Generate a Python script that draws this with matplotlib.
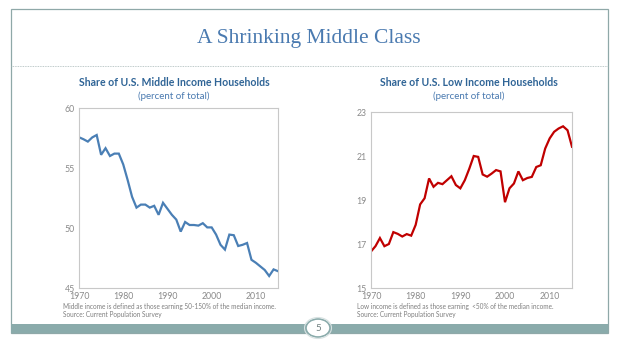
import matplotlib.pyplot as plt
from matplotlib.patches import Rectangle, Ellipse

years = list(range(1970, 2016))
middle = [57.56, 57.4, 57.2, 57.55, 57.75, 56.1, 56.65, 56.0, 56.2, 56.2,
          55.3, 54.0, 52.6, 51.7, 51.95, 51.95, 51.7, 51.85, 51.1, 52.1,
          51.6, 51.1, 50.7, 49.7, 50.5, 50.25, 50.25, 50.2, 50.4, 50.05,
          50.05, 49.45, 48.6, 48.2, 49.45, 49.4, 48.5, 48.6, 48.75, 47.35,
          47.1, 46.8, 46.5, 46.0, 46.55, 46.4]
low = [16.66, 16.9, 17.27, 16.9, 17.0, 17.54, 17.46, 17.34, 17.45, 17.38,
       17.87, 18.8, 19.08, 19.98, 19.6, 19.78, 19.72, 19.9, 20.08, 19.68,
       19.53, 19.9, 20.42, 21.0, 20.96, 20.16, 20.06, 20.2, 20.36, 20.3,
       18.9, 19.53, 19.75, 20.3, 19.9, 20.0, 20.05, 20.5, 20.58, 21.34,
       21.8, 22.1, 22.25, 22.35, 22.17, 21.42]
xticks = [1970, 1980, 1990, 2000, 2010]
mid_yticks = [45, 50, 55, 60]
low_yticks = [15, 17, 19, 21, 23]

W, H = 618, 351
fig = plt.figure(figsize=(W / 100, H / 100), dpi=100)
plt.rcParams['font.family'] = ['Lato', 'DejaVu Sans']

# slide decoration in pixel coords
bg = fig.add_axes([0, 0, 1, 1])
bg.set_xlim(0, W); bg.set_ylim(H, 0); bg.axis('off')
bg.add_patch(Rectangle((11, 9), 597, 324, fill=False, ec='#8fa8a8', lw=0.9))
bg.plot([11, 608], [66, 66], ls=(0, (1, 1)), color='#a8b8b8', lw=0.6)
bg.add_patch(Rectangle((11, 324), 597, 9, color='#8aabab', lw=0))
bg.add_patch(Ellipse((318, 328), 24, 18, fc='white', ec='#8aabab', lw=1.2))
bg.add_patch(Ellipse((318, 328), 27, 21, fill=False, ec='#d8e2e2', lw=0.8))
bg.text(318, 328.5, '5', ha='center', va='center', fontsize=7, color='#6f7f7f')
bg.text(309, 38, 'A Shrinking Middle Class', ha='center', va='center',
        fontsize=15.5, color='#4a7ab0', family='Liberation Serif')

panels = [
    ([79 / W, 1 - 288 / H, 199 / W, 180 / H], middle, '#4a7fb5', (45, 60), mid_yticks,
     174, 'Share of U.S. Middle Income Households',
     'Middle income is defined as those earning 50-150% of the median income.', 63),
    ([371 / W, 1 - 288 / H, 201 / W, 176 / H], low, '#c00000', (15, 23), low_yticks,
     469, 'Share of U.S. Low Income Households',
     'Low income is defined as those earning  <50% of the median income.', 357),
]
for rect, vals, col, ylim, yt, cx, title, note, nx in panels:
    ax = fig.add_axes(rect)
    ax.plot(years, vals, color=col, lw=1.6, solid_joinstyle='miter')
    ax.set_xlim(1970, 2015); ax.set_ylim(*ylim)
    ax.set_xticks(xticks); ax.set_yticks(yt)
    ax.tick_params(length=0, labelsize=6.3, labelcolor='#8a8a8a', pad=3)
    for s in ax.spines.values():
        s.set_color('#c8c8c8'); s.set_linewidth(0.8)
    bg.text(cx, 83, title, ha='center', va='center', fontsize=7.6,
            fontweight='bold', color='#2f6496')
    bg.text(cx, 96, '(percent of total)', ha='center', va='center',
            fontsize=7, color='#4a7ab0')
    bg.text(nx, 306, note, ha='left', va='center', fontsize=4.7, color='#7f7f7f')
    bg.text(nx, 314, 'Source: Current Population Survey', ha='left', va='center',
            fontsize=4.7, color='#7f7f7f')

fig.savefig('out.png', dpi=100)
